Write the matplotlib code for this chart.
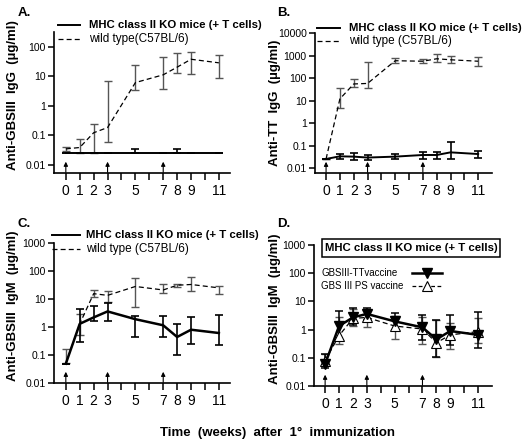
import matplotlib
matplotlib.use("Agg")
import matplotlib.pyplot as plt
from matplotlib.lines import Line2D
from matplotlib.patches import Rectangle
import numpy as np

plt.rcParams['font.family'] = ['Liberation Sans', 'DejaVu Sans']

weeks = [0, 1, 2, 3, 5, 7, 8, 9, 11]
tick_labels = ['0', '1', '2', '3', '5', '7', '8', '9', '11']
boost_weeks = [0, 3, 7]

# Panel A: anti-GBSIII IgG
a_ko = [0.025, 0.025, 0.025, 0.025, 0.025, 0.025, 0.025, 0.025, 0.025]
a_ko_lo = [0.025, 0.025, 0.025, 0.025, 0.025, 0.025, 0.025, 0.025, 0.025]
a_ko_hi = [0.025, 0.025, 0.025, 0.025, 0.033, 0.025, 0.033, 0.025, 0.025]
a_wt = [0.034, 0.038, 0.12, 0.18, 6.0, 11, 20, 37, 28]
a_wt_lo = [0.028, 0.025, 0.025, 0.06, 3.4, 3.7, 12.6, 11.7, 8.6]
a_wt_hi = [0.04, 0.073, 0.23, 6.6, 24, 43, 61, 64, 53]

# Panel B: anti-TT IgG
b_ko = [0.026, 0.034, 0.033, 0.030, 0.033, 0.039, 0.039, 0.051, 0.043]
b_ko_lo = [0.026, 0.026, 0.024, 0.024, 0.026, 0.026, 0.026, 0.027, 0.028]
b_ko_hi = [0.026, 0.043, 0.048, 0.040, 0.043, 0.051, 0.055, 0.145, 0.061]
b_wt = [0.026, 12, 55, 58, 590, 560, 720, 650, 560]
b_wt_lo = [0.026, 4.6, 41, 37, 467, 467, 517, 467, 330]
b_wt_hi = [0.026, 37, 92, 517, 785, 730, 1230, 935, 830]

# Panel C: anti-GBSIII IgM
c_ko = [0.049, 1.3, 2.2, 3.6, 1.9, 1.15, 0.44, 0.80, 0.61]
c_ko_lo = [0.049, 0.29, 1.7, 1.7, 0.44, 0.44, 0.10, 0.25, 0.22]
c_ko_hi = [0.049, 4.5, 5.5, 7.4, 2.5, 2.4, 1.25, 2.3, 2.7]
c_wt = [0.05, 1.3, 15.5, 13.5, 28, 21, 31, 33, 25]
c_wt_lo = [0.05, 0.5, 11.8, 7.8, 5.2, 16.4, 27, 20, 15]
c_wt_hi = [0.17, 3.0, 21.5, 19, 58, 35, 35, 61, 29]

# Panel D: anti-GBSIII IgM in KO mice, two vaccines
d_tt = [0.06, 1.34, 2.7, 3.6, 1.96, 1.2, 0.45, 0.89, 0.65]
d_tt_lo = [0.045, 0.43, 1.4, 2.2, 1.0, 0.43, 0.11, 0.28, 0.22]
d_tt_hi = [0.14, 4.7, 5.7, 6.0, 4.0, 3.3, 2.2, 3.3, 4.3]
d_ps = [0.08, 0.61, 2.5, 2.7, 1.34, 1.05, 0.34, 0.65, 0.85]
d_ps_lo = [0.06, 0.3, 1.35, 1.2, 0.45, 0.32, 0.11, 0.2, 0.33]
d_ps_hi = [0.14, 2.9, 5.2, 4.9, 3.0, 2.8, 2.2, 1.7, 2.6]

GRAY = '#555555'
DASH = (0, (4, 2.5))

fig = plt.figure(figsize=(5.25, 4.44), dpi=100)
W, H = 525.0, 444.0

def fx(x):
    return x / W

def fy(y):
    return 1 - y / H

def box(l, t, r, b):
    return [l / W, 1 - b / H, (r - l) / W, (b - t) / H]

def yerr(v, lo, hi):
    v = np.array(v); lo = np.array(lo); hi = np.array(hi)
    return [np.clip(v - lo, 0, None), np.clip(hi - v, 0, None)]

def setup(ax, ylim, yticks, yticklabels, xlim, ylabel, label_x, label_y):
    ax.set_yscale('log')
    ax.set_ylim(*ylim)
    ax.set_xlim(*xlim)
    ax.set_yticks(yticks)
    ax.set_yticklabels(yticklabels)
    ax.yaxis.set_minor_locator(matplotlib.ticker.NullLocator())
    ax.set_xticks(range(0, 12))
    ax.set_xticklabels([tick_labels[weeks.index(i)] if i in weeks else '' for i in range(12)])
    for s in ['top', 'right']:
        ax.spines[s].set_visible(False)
    for s in ['left', 'bottom']:
        ax.spines[s].set_linewidth(1.2)
    ax.tick_params(axis='x', direction='out', length=5, width=1.1, labelsize=10, pad=3)
    ax.tick_params(axis='y', direction='out', length=4, width=1.1, labelsize=7.5, pad=2)
    ax.set_ylabel(ylabel, fontsize=9.5, fontweight='bold')
    ax.yaxis.set_label_coords(label_x, label_y)
    for x in boost_weeks:
        ax.annotate('', xy=(x, 0.08), xycoords=('data', 'axes fraction'),
                    xytext=(x, 0.005), textcoords=('data', 'axes fraction'),
                    arrowprops=dict(arrowstyle='-|>', color='black', lw=0.8,
                                    mutation_scale=6, shrinkA=0, shrinkB=0))

def plot_pair(ax, ko, ko_lo, ko_hi, wt, wt_lo, wt_hi, ko_lw=1.4):
    ax.errorbar(weeks, wt, yerr=yerr(wt, wt_lo, wt_hi), fmt='none', ecolor=GRAY,
                elinewidth=1.0, capsize=3, capthick=1.0)
    ax.plot(weeks, wt, color='black', lw=0.9, ls=DASH)
    ax.errorbar(weeks, ko, yerr=yerr(ko, ko_lo, ko_hi), fmt='none', ecolor='black',
                elinewidth=1.2, capsize=3, capthick=1.2)
    ax.plot(weeks, ko, color='black', lw=ko_lw)

# Panel A
axA = fig.add_axes(box(54, 32, 230, 173))
setup(axA, (0.0052, 310), [0.01, 0.1, 1, 10, 100], ['0.01', '0.1', '1', '10', '100'],
      (-0.85, 11.8), 'Anti-GBSIII  IgG  (\u00b5g/ml)', -0.2, 0.55)
plot_pair(axA, a_ko, a_ko_lo, a_ko_hi, a_wt, a_wt_lo, a_wt_hi)

# Panel B
axB = fig.add_axes(box(315, 33, 492, 173))
setup(axB, (0.0062, 10000), [0.01, 0.1, 1, 10, 100, 1000, 10000],
      ['0.01', '0.1', '1', '10', '100', '1000', '10000'],
      (-0.8, 12.0), 'Anti-TT  IgG  (\u00b5g/ml)', -0.192, 0.5)
plot_pair(axB, b_ko, b_ko_lo, b_ko_hi, b_wt, b_wt_lo, b_wt_hi)

# Panel C
axC = fig.add_axes(box(54, 243, 230, 383))
setup(axC, (0.01, 1000), [0.01, 0.1, 1, 10, 100, 1000],
      ['0.01', '0.1', '1', '10', '100', '1000'],
      (-0.85, 11.8), 'Anti-GBSIII  IgM  (\u00b5g/ml)', -0.2, 0.55)
plot_pair(axC, c_ko, c_ko_lo, c_ko_hi, c_wt, c_wt_lo, c_wt_hi, ko_lw=1.8)

# Panel D
axD = fig.add_axes(box(314, 245, 492, 386))
setup(axD, (0.01, 1000), [0.01, 0.1, 1, 10, 100, 1000],
      ['0.01', '0.1', '1', '10', '100', '1000'],
      (-0.8, 12.0), 'Anti-GBSIII  IgM  (\u00b5g/ml)', -0.185, 0.545)
axD.errorbar(weeks, d_ps, yerr=yerr(d_ps, d_ps_lo, d_ps_hi), fmt='none', ecolor=GRAY,
             elinewidth=1.0, capsize=3, capthick=1.0)
axD.errorbar(weeks, d_tt, yerr=yerr(d_tt, d_tt_lo, d_tt_hi), fmt='none', ecolor='black',
             elinewidth=1.1, capsize=3, capthick=1.1)
axD.plot(weeks, d_ps, color='black', lw=0.9, ls=DASH, marker='^',
         markerfacecolor='white', markeredgecolor='black', markersize=6.5, mew=0.8)
axD.plot(weeks, d_tt, color='black', lw=1.8, marker='v', markerfacecolor='black',
         markeredgecolor='black', markersize=7.5)

# Panel letters
for (x, y, t) in [(18, 13, 'A.'), (277, 13, 'B.'), (18, 224, 'C.'), (277, 224, 'D.')]:
    fig.text(fx(x), fy(y), t, fontsize=9.5, fontweight='bold', va='center', ha='left')

# Legends (A, B, C)
def legend_lines(x0, x1, tx, y_solid, y_dash, wt_text):
    fig.add_artist(Line2D([fx(x0), fx(x1)], [fy(y_solid)] * 2, color='black', lw=1.4))
    fig.add_artist(Line2D([fx(x0), fx(x1)], [fy(y_dash)] * 2, color='black', lw=0.9, ls=DASH))
    fig.text(fx(tx), fy(y_solid), 'MHC class II KO mice (+ T cells)', fontsize=8.2,
             fontweight='bold', va='center', ha='left')
    fig.text(fx(tx), fy(y_dash), wt_text, fontsize=8.5, va='center', ha='left')

legend_lines(58, 80, 89, 25, 39, 'wild type(C57BL/6)')
legend_lines(317, 340, 349, 28, 41, 'wild type (C57BL/6)')
legend_lines(52, 80, 86, 235, 249, 'wild type (C57BL/6)')

# Panel D legend
fig.add_artist(Rectangle((fx(322), fy(257)), fx(500) - fx(322), fy(239) - fy(257),
                         transform=fig.transFigure, facecolor='white', edgecolor='black',
                         lw=1.1))
fig.text(fx(411), fy(248), 'MHC class II KO mice (+ T cells)', fontsize=8.2,
         fontweight='bold', va='center', ha='center')
fig.text(fx(321), fy(273), 'GBSIII-TTvaccine', fontsize=7, va='center', ha='left')
fig.text(fx(321), fy(286), 'GBS III PS vaccine', fontsize=7, va='center', ha='left')
fig.add_artist(Line2D([fx(412), fx(442)], [fy(273)] * 2, color='black', lw=1.8))
fig.add_artist(Line2D([fx(427)], [fy(273)], color='black', marker='v',
                      markersize=7.5, markerfacecolor='black', lw=0))
fig.add_artist(Line2D([fx(412), fx(442)], [fy(286)] * 2, color='black', lw=0.9,
                      ls=(0, (3, 2))))
fig.add_artist(Line2D([fx(427)], [fy(286)], color='black', marker='^',
                      markersize=6.5, markerfacecolor='white', mew=0.8, lw=0))

# Common x label
fig.text(fx(277), fy(433), 'Time  (weeks)  after  1\u00b0  immunization', fontsize=9.5,
         fontweight='bold', va='center', ha='center')

fig.savefig('out.png', dpi=100)
